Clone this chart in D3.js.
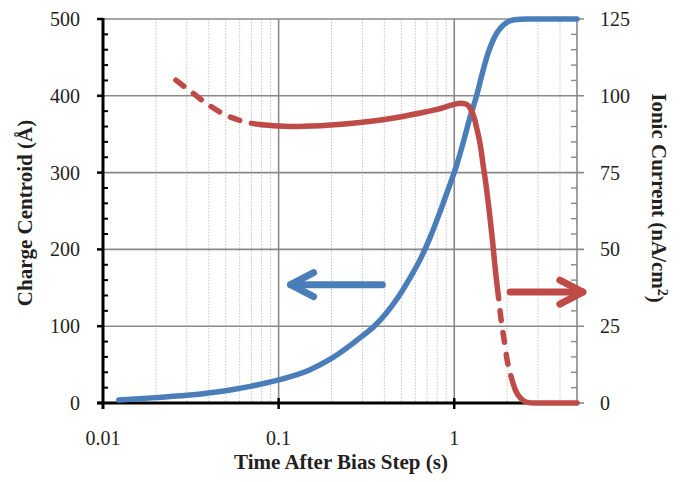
<!DOCTYPE html>
<html>
<head>
<meta charset="utf-8">
<script src="https://cdn.jsdelivr.net/npm/d3@7"></script>
<style>
    body { margin: 0; background: #fff; }
    svg { display: block; font-family: "Liberation Serif", "Times New Roman", serif; }
    .tick-label { font-size: 20px; fill: #231f20; }
    .axis-title { font-size: 21px; font-weight: bold; fill: #231f20; }
</style>
</head>
<body>
<svg id="chart" width="683" height="482"></svg>
<script>
/**
 * Data.
 */
const timeTicks = [0.01, 0.1, 1],
    timeTickLabels = ['0.01', '0.1', '1'],
    centroidTicks = [0, 100, 200, 300, 400, 500],
    currentTicks = [0, 25, 50, 75, 100, 125];

// Charge centroid (Å), left axis
const centroidTime = [0.0123, 0.02, 0.03, 0.053, 0.07, 0.1, 0.15, 0.2, 0.299, 0.35, 0.41, 0.48, 0.56,
    0.64, 0.73, 0.83, 0.92, 1.03, 1.14, 1.23, 1.34, 1.44, 1.54, 1.62, 1.71, 1.83, 1.98, 2.2, 2.57, 5];
const centroidValue = [4, 7, 10, 17, 22, 30, 43, 58, 87, 100, 117, 138, 163,
    187, 216, 249, 277, 309, 344, 372, 400, 428, 452, 466, 478, 488, 495, 499, 500, 500];

// Ionic current (nA/cm2), right axis
const currentTime = [0.026, 0.03, 0.04, 0.05, 0.06, 0.069, 0.08, 0.1, 0.13, 0.2, 0.3, 0.5, 0.64, 0.8,
    1.0, 1.08, 1.17, 1.23, 1.3, 1.35, 1.41, 1.46, 1.52, 1.58, 1.65, 1.71, 1.78, 1.85, 1.93, 2.0,
    2.11, 2.23, 2.38, 2.57, 2.89, 5];
const currentValue = [105.1, 102.4, 97, 93.7, 92, 91.1, 90.6, 90.2, 90.0, 90.5, 91.4, 93.2, 94.4, 95.6,
    97.2, 97.6, 97.3, 96, 92.8, 88.9, 83.7, 77.5, 70.6, 62.8, 53.1, 43.9, 35.2, 27, 19.9, 14,
    8.5, 4.2, 1.6, 0.3, 0, 0];

// Dashed stretches of the current curve (time ranges)
const currentDashed = [[0.026, 0.07], [1.79, 2.05]];

// Direction arrows: [time from, time to, value]
const centroidArrow = [0.39, 0.117, 154],
    currentArrow = [2.08, 5.4, 36.1];

/**
 * Visual configs.
 */
const W = 683, H = 482,
    margin = { top: 19, right: 106, bottom: 79, left: 103 },
    blue = '#4a7ebb',
    red = '#be4b48',
    gridColor = '#898989',
    minorColor = '#c4c4c4';

const svg = d3.select('#chart');

const x = d3.scaleLog().domain([0.01, 5]).range([margin.left, W - margin.right]),
    yL = d3.scaleLinear().domain([0, 500]).range([H - margin.bottom, margin.top]),
    yR = d3.scaleLinear().domain([0, 125]).range([H - margin.bottom, margin.top]);

const x0 = x.range()[0], x1 = x.range()[1],
    yBottom = yL(0), yTop = yL(500);

/**
 * Grid.
 */
const grid = svg.append('g').attr('class', 'grid');

// Minor vertical lines, dotted
grid.selectAll('.minor-x')
    .data(x.ticks().filter(t => !timeTicks.some(m => Math.abs(m - t) < 1e-9) && t < 5))
    .join('line')
    .attr('x1', d => x(d)).attr('x2', d => x(d))
    .attr('y1', yTop).attr('y2', yBottom)
    .attr('stroke', minorColor)
    .attr('stroke-width', 1)
    .attr('stroke-dasharray', '1.5,1.5');

// Major vertical lines
grid.selectAll('.major-x')
    .data(timeTicks.slice(1))
    .join('line')
    .attr('x1', d => x(d)).attr('x2', d => x(d))
    .attr('y1', yTop).attr('y2', yBottom)
    .attr('stroke', gridColor)
    .attr('stroke-width', 1.6);

// Horizontal lines, run out past the right axis as its major ticks
grid.selectAll('.major-y')
    .data(centroidTicks.slice(1))
    .join('line')
    .attr('x1', x0).attr('x2', x1 + 7)
    .attr('y1', d => yL(d)).attr('y2', d => yL(d))
    .attr('stroke', gridColor)
    .attr('stroke-width', 1.6);

/**
 * Right axis (gray).
 */
const rightAxis = svg.append('g').attr('class', 'axis right');
rightAxis.append('line')
    .attr('x1', x1).attr('x2', x1)
    .attr('y1', yTop).attr('y2', yBottom + 1)
    .attr('stroke', gridColor).attr('stroke-width', 1.6);
rightAxis.append('line')
    .attr('x1', x1).attr('x2', x1 + 7)
    .attr('y1', yBottom).attr('y2', yBottom)
    .attr('stroke', gridColor).attr('stroke-width', 1.6);
rightAxis.selectAll('.minor')
    .data(d3.range(0, 126, 5).filter(v => v % 25 !== 0))
    .join('line')
    .attr('x1', x1 - 6).attr('x2', x1)
    .attr('y1', d => yR(d)).attr('y2', d => yR(d))
    .attr('stroke', gridColor).attr('stroke-width', 1.4);
rightAxis.selectAll('text')
    .data(currentTicks)
    .join('text')
    .attr('class', 'tick-label')
    .attr('x', x1 + 23)
    .attr('y', d => yR(d))
    .attr('dy', '0.35em')
    .text(d => d);

/**
 * Left axis (black).
 */
const leftAxis = svg.append('g').attr('class', 'axis left');
leftAxis.selectAll('.minor')
    .data(d3.range(0, 501, 20).filter(v => v % 100 !== 0))
    .join('line')
    .attr('x1', x0).attr('x2', x0 + 5)
    .attr('y1', d => yL(d)).attr('y2', d => yL(d))
    .attr('stroke', '#000').attr('stroke-width', 2);
leftAxis.selectAll('.major')
    .data(centroidTicks)
    .join('line')
    .attr('x1', x0 - 6).attr('x2', x0)
    .attr('y1', d => yL(d)).attr('y2', d => yL(d))
    .attr('stroke', '#000').attr('stroke-width', 2.5);
leftAxis.append('line')
    .attr('x1', x0).attr('x2', x0)
    .attr('y1', yTop - 1).attr('y2', yBottom + 6)
    .attr('stroke', '#000').attr('stroke-width', 3);
leftAxis.selectAll('text')
    .data(centroidTicks)
    .join('text')
    .attr('class', 'tick-label')
    .attr('x', x0 - 23)
    .attr('y', d => yL(d))
    .attr('dy', '0.35em')
    .attr('text-anchor', 'end')
    .text(d => d);

/**
 * Bottom axis (black).
 */
const bottomAxis = svg.append('g').attr('class', 'axis bottom');
bottomAxis.append('line')
    .attr('x1', x0 - 6).attr('x2', x1)
    .attr('y1', yBottom).attr('y2', yBottom)
    .attr('stroke', '#000').attr('stroke-width', 3);
bottomAxis.selectAll('.major')
    .data(timeTicks.slice(1))
    .join('line')
    .attr('x1', d => x(d)).attr('x2', d => x(d))
    .attr('y1', yBottom - 5).attr('y2', yBottom + 6)
    .attr('stroke', '#000').attr('stroke-width', 2.5);
bottomAxis.selectAll('text')
    .data(timeTicks)
    .join('text')
    .attr('class', 'tick-label')
    .attr('x', d => x(d))
    .attr('y', yBottom + 42)
    .attr('text-anchor', 'middle')
    .text((d, i) => timeTickLabels[i]);

/**
 * Titles.
 */
svg.append('text')
    .attr('class', 'axis-title')
    .attr('x', (x0 + x1) / 2 + 1)
    .attr('y', 469)
    .attr('text-anchor', 'middle')
    .text('Time After Bias Step (s)');

svg.append('text')
    .attr('class', 'axis-title')
    .attr('transform', 'translate(32,' + ((yTop + yBottom) / 2 + 2) + ') rotate(-90)')
    .attr('text-anchor', 'middle')
    .text('Charge Centroid (Å)');

const rightTitle = svg.append('text')
    .attr('class', 'axis-title')
    .attr('transform', 'translate(652,198) rotate(90)')
    .attr('text-anchor', 'middle');
rightTitle.append('tspan').text('Ionic Current (nA/cm');
rightTitle.append('tspan').attr('dy', '-0.4em').style('font-size', '14px').text('2');
rightTitle.append('tspan').attr('dy', '0.4em').text(')');

/**
 * Curves.
 */
const centroidLine = d3.line()
    .x(i => x(centroidTime[i]))
    .y(i => yL(centroidValue[i]))
    .curve(d3.curveMonotoneX);

const currentLine = d3.line()
    .x(i => x(currentTime[i]))
    .y(i => yR(currentValue[i]))
    .curve(d3.curveMonotoneX);

svg.append('path')
    .attr('d', centroidLine(d3.range(centroidTime.length)))
    .attr('fill', 'none')
    .attr('stroke', blue)
    .attr('stroke-width', 5.5)
    .attr('stroke-linecap', 'round');

const currentPath = svg.append('path')
    .attr('d', currentLine(d3.range(currentTime.length)))
    .attr('fill', 'none')
    .attr('stroke', red)
    .attr('stroke-width', 5.5)
    .attr('stroke-linecap', 'round');

// Length along the path at which it reaches a given x position
function lengthAtX(node, px) {
    let lo = 0, hi = node.getTotalLength();
    for (let k = 0; k < 40; k++) {
        const mid = (lo + hi) / 2;
        if (node.getPointAtLength(mid).x < px) lo = mid; else hi = mid;
    }
    return lo;
}

// Build a dash pattern that is dashed only over the given stretches
function dashPattern(node, ranges, on, off) {
    const total = node.getTotalLength(),
        arr = [];
    let pos = 0;
    ranges.forEach(r => {
        const a = lengthAtX(node, x(r[0])),
            b = lengthAtX(node, x(r[1]));
        if (a > pos + 0.5) {
            arr.push(a - pos, off);
            pos = a + off;
        }
        while (pos + on < b) {
            arr.push(on, off);
            pos += on + off;
        }
    });
    arr.push(total - pos + 10, 0);
    return arr.join(',');
}

currentPath.attr('stroke-dasharray', dashPattern(currentPath.node(), currentDashed, 10, 12));

/**
 * Arrows.
 */
function arrow(xFrom, xTo, yPos, color) {
    const dir = Math.sign(xTo - xFrom),
        back = 23, spread = 12,
        g = svg.append('g').attr('class', 'arrow')
            .attr('stroke', color)
            .attr('stroke-width', 7)
            .attr('stroke-linecap', 'round')
            .attr('fill', 'none');
    g.append('line').attr('x1', xFrom).attr('x2', xTo).attr('y1', yPos).attr('y2', yPos);
    g.append('polyline')
        .attr('stroke-linejoin', 'round')
        .attr('points', [
            [xTo - dir * back, yPos - spread],
            [xTo, yPos],
            [xTo - dir * back, yPos + spread]
        ].map(p => p.join(',')).join(' '));
}

arrow(x(centroidArrow[0]), x(centroidArrow[1]), yL(centroidArrow[2]), blue);
arrow(x(currentArrow[0]), x(currentArrow[1]), yR(currentArrow[2]), red);
</script>
</body>
</html>
